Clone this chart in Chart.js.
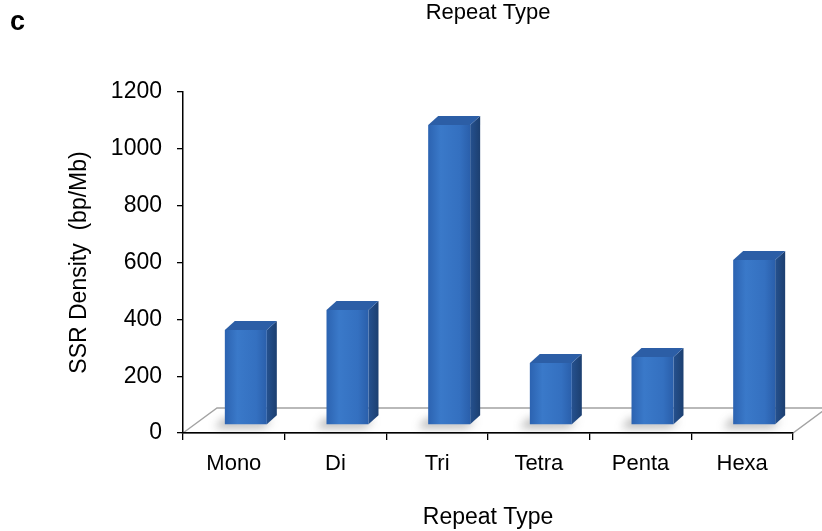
<!DOCTYPE html>
<html>
<head>
<meta charset="utf-8">
<script src="https://cdn.jsdelivr.net/npm/chart.js@4/dist/chart.umd.min.js"></script>
<style>
  html, body { margin: 0; padding: 0; background: #ffffff; }
  canvas { display: block; }
</style>
</head>
<body>
<canvas id="chart" width="822" height="531"></canvas>
<script>
// SSR density per repeat type
const repeatTypes = ['Mono', 'Di', 'Tri', 'Tetra', 'Penta', 'Hexa'];
const ssrDensity = [334, 405, 1056, 218, 239, 581];
const densityTicks = [0, 200, 400, 600, 800, 1000, 1200];

const FONT = '"Liberation Sans", Arial, sans-serif';
const BAR_FRACTION = 0.413;

// pseudo-3D geometry (pixels)
const FLOOR_DX = 34, FLOOR_DY = 25;   // depth of the floor plane
const SHIFT_X = 12, SHIFT_Y = -8;     // bars stand midway on the floor
const DEPTH_X = 10, DEPTH_Y = 9;      // depth of each column

function barBox(el) {
  const p = el.getProps(['x', 'y', 'base', 'width'], true);
  return {
    l: p.x - p.width / 2 + SHIFT_X,
    r: p.x + p.width / 2 + SHIFT_X,
    t: p.y + SHIFT_Y,
    b: p.base + SHIFT_Y
  };
}

function poly(ctx, pts) {
  ctx.beginPath();
  ctx.moveTo(pts[0][0], pts[0][1]);
  for (let i = 1; i < pts.length; i++) ctx.lineTo(pts[i][0], pts[i][1]);
  ctx.closePath();
}

const floorAndColumns = {
  id: 'floorAndColumns',
  beforeDraw(chart) {
    const { ctx, chartArea: { left, right, bottom } } = chart;
    ctx.save();
    ctx.fillStyle = '#ffffff';
    ctx.fillRect(0, 0, chart.width, chart.height);
    // floor plane
    poly(ctx, [[left, bottom], [left + FLOOR_DX, bottom - FLOOR_DY],
               [right + FLOOR_DX, bottom - FLOOR_DY], [right, bottom]]);
    ctx.fillStyle = '#ffffff';
    ctx.fill();
    ctx.strokeStyle = '#a3a3a3';
    ctx.lineWidth = 1.4;
    ctx.stroke();
    // panel letter
    ctx.fillStyle = '#000';
    ctx.font = 'bold 27px ' + FONT;
    ctx.textBaseline = 'alphabetic';
    ctx.fillText('c', 10, 30);
    ctx.restore();
  },
  beforeDatasetsDraw(chart) {
    const { ctx } = chart;
    const meta = chart.getDatasetMeta(0);
    ctx.save();
    // soft shadows on the floor
    ctx.filter = 'blur(4px)';
    ctx.fillStyle = 'rgba(60,60,60,0.35)';
    meta.data.forEach(el => {
      const { l, r, b } = barBox(el);
      poly(ctx, [[l - 10, b + 4], [r - 4, b + 4], [r + 6, b - 4], [l - 2, b - 6]]);
      ctx.fill();
    });
    ctx.filter = 'none';
    // side and top faces
    meta.data.forEach(el => {
      const { l, r, t, b } = barBox(el);
      const side = ctx.createLinearGradient(r, 0, r + DEPTH_X, 0);
      side.addColorStop(0, '#25518f');
      side.addColorStop(1, '#1c3f70');
      poly(ctx, [[r, t], [r + DEPTH_X, t - DEPTH_Y], [r + DEPTH_X, b - DEPTH_Y], [r, b]]);
      ctx.fillStyle = side;
      ctx.fill();
      poly(ctx, [[l, t], [l + DEPTH_X, t - DEPTH_Y], [r + DEPTH_X, t - DEPTH_Y], [r, t]]);
      ctx.fillStyle = '#2c5ea6';
      ctx.fill();
    });
    ctx.restore();
    // front faces are drawn by the bar controller, shifted onto the floor
    ctx.save();
    ctx.translate(SHIFT_X, SHIFT_Y);
  },
  afterDatasetsDraw(chart) {
    chart.ctx.restore();
  }
};

function frontFill(context) {
  const chart = context.chart;
  const xs = chart.scales && chart.scales.x;
  if (!chart.chartArea || !xs) return '#3572c2';
  const cx = xs.getPixelForValue(context.dataIndex);
  const half = (xs.width / repeatTypes.length) * BAR_FRACTION / 2;
  const g = chart.ctx.createLinearGradient(cx - half, 0, cx + half, 0);
  g.addColorStop(0, '#2c63b1');
  g.addColorStop(0.3, '#3a79c9');
  g.addColorStop(0.75, '#3470c0');
  g.addColorStop(1, '#2a5fab');
  return g;
}

new Chart(document.getElementById('chart'), {
  type: 'bar',
  data: {
    labels: repeatTypes,
    datasets: [{
      label: 'SSR Density',
      data: ssrDensity,
      backgroundColor: frontFill,
      borderWidth: 0,
      barPercentage: BAR_FRACTION,
      categoryPercentage: 1
    }]
  },
  options: {
    responsive: false,
    animation: false,
    devicePixelRatio: 1,
    layout: { padding: { left: 0, right: 29, top: 0, bottom: 0 } },
    plugins: {
      legend: { display: false },
      tooltip: { enabled: false },
      title: {
        display: true,
        text: 'Repeat Type',
        fullSize: false,
        color: '#000',
        font: { family: FONT, size: 22, weight: 'normal' },
        padding: { top: 0, bottom: 65.6 }
      }
    },
    scales: {
      x: {
        offset: true,
        grid: { offset: true, drawOnChartArea: false, drawTicks: true, tickLength: 7, color: '#000', lineWidth: 1.3 },
        border: { display: true, color: '#000', width: 1.5 },
        ticks: { color: '#000', font: { family: FONT, size: 22 }, padding: 11, maxRotation: 0 },
        title: { display: true, text: 'Repeat Type', color: '#000', font: { family: FONT, size: 23 }, padding: { top: 0, bottom: 0 } },
        afterFit(scale) { scale.height = 98; }
      },
      y: {
        min: 0,
        max: 1200,
        afterBuildTicks(scale) { scale.ticks = densityTicks.map(v => ({ value: v })); },
        grid: { drawOnChartArea: false, drawTicks: true, tickLength: 6, color: '#000', lineWidth: 1.3 },
        border: { display: true, color: '#000', width: 1.5 },
        ticks: { color: '#000', font: { family: FONT, size: 23 }, padding: 15, callback: v => String(v) },
        title: { display: true, text: 'SSR Density  (bp/Mb)', color: '#000', font: { family: FONT, size: 23 }, padding: { top: 66, bottom: 0 } },
        afterFit(scale) { scale.width = 183; }
      }
    }
  },
  plugins: [floorAndColumns]
});
</script>
</body>
</html>
